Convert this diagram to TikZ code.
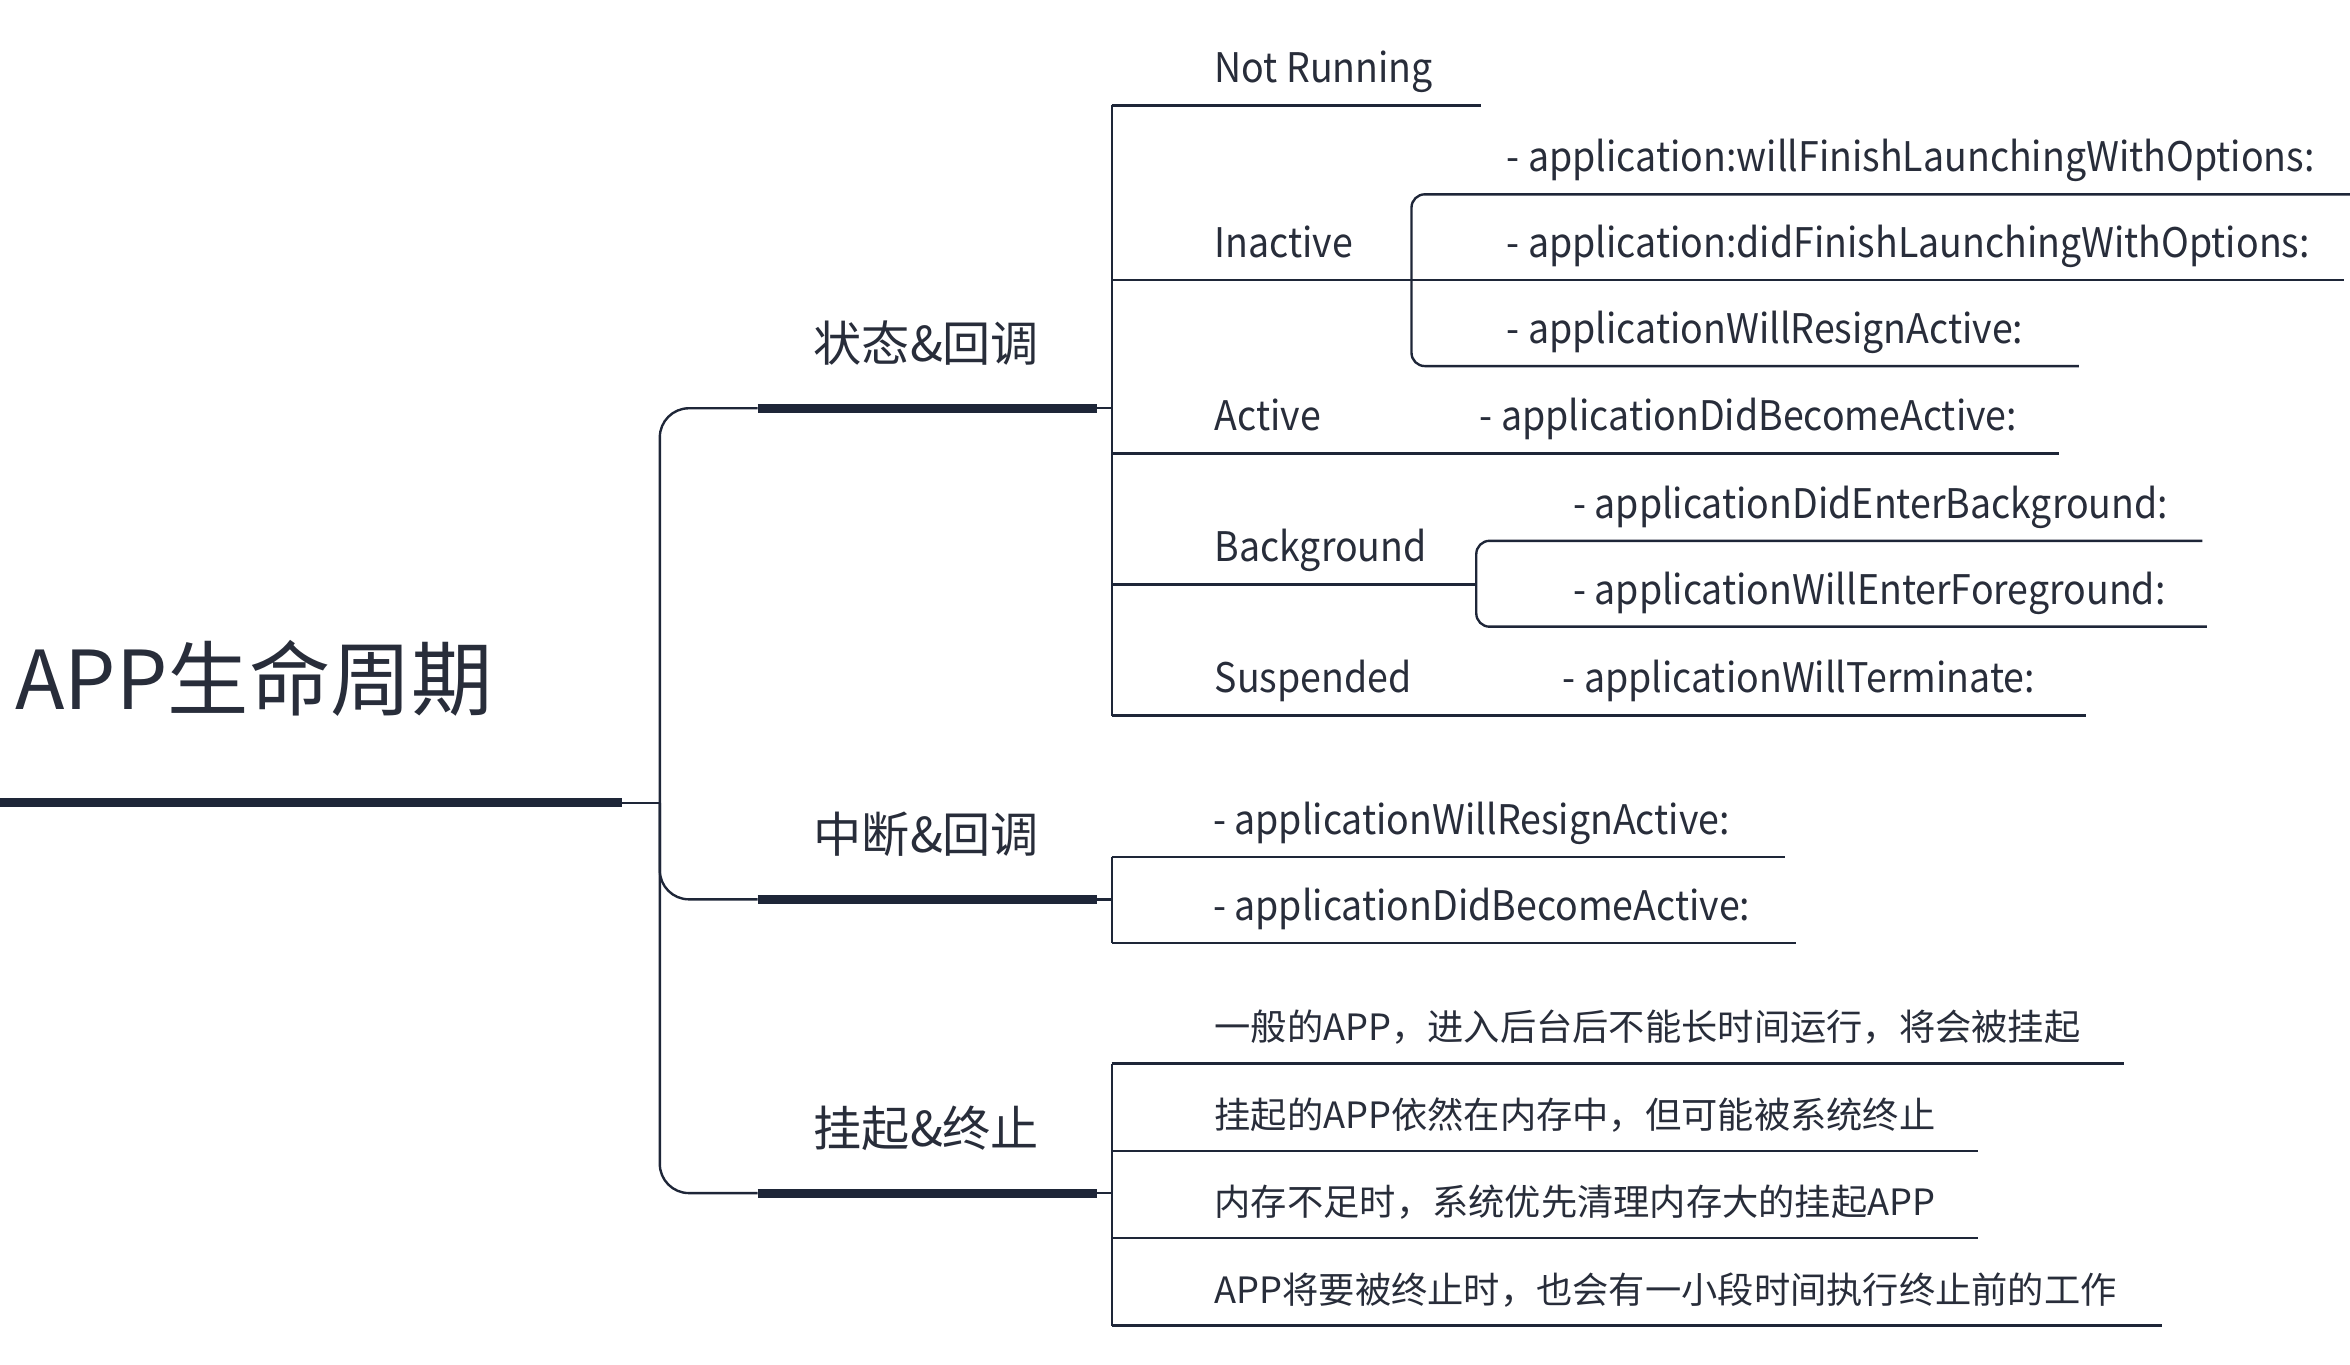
\documentclass[tikz,border=0pt]{standalone}
\usepackage{fontspec}
\setmainfont{Noto Sans CJK SC}
\newfontfamily\narrowfont[FakeStretch=0.92]{Noto Sans CJK SC}
\usepackage{xcolor}
\usetikzlibrary{positioning,calc}
\definecolor{ink}{RGB}{30,38,56}
\definecolor{txt}{RGB}{40,45,58}

\begin{document}
\begin{tikzpicture}[x=0.02cm, y=-0.02cm,
    thin line/.style={ink, line width=0.9pt},
    thick line/.style={ink, line width=3.4pt},
    bracket/.style={thin line, rounded corners=5pt},
    leaf/.style={anchor=base west, inner sep=0pt, text=txt, font=\narrowfont\fontsize{15.4}{18}\selectfont},
    cnleaf/.style={leaf, font=\fontsize{13.7}{16}\selectfont},
    topic/.style={anchor=base, inner sep=0pt, text=txt, font=\fontsize{18.2}{22}\selectfont}]
    \useasboundingbox (0,0) rectangle (1560,905.5);

    % Root
    \node[anchor=base west, inner sep=0pt, text=txt, font=\fontsize{30.7}{36}\selectfont] (root) at (10,471) {APP生命周期};
    \coordinate (root-l) at (0,533);
    \coordinate (root-r) at (413,533);
    \coordinate (trunk) at (438,533);
    \draw[thick line] (root-l) -- (root-r);
    \draw[thin line] (root-r) -- (trunk);

    % Main branches
    \foreach \name/\y/\lab in {state/271/状态\&回调, pause/597/中断\&回调, stop/792/挂起\&终止} {
        \coordinate (\name-l) at (503,\y);
        \coordinate (\name-r) at (728,\y);
        \coordinate (\name-e) at (738,\y);
        \node[topic] (\name) at (615,\y-31) {\lab};
        \draw[thick line] (\name-l) -- (\name-r);
        \draw[thin line] (\name-r) -- (\name-e);
    }
    \draw[thin line, rounded corners=11pt] (state-l) -| (trunk) |- (stop-l);
    \draw[thin line, rounded corners=11pt] (trunk) |- (pause-l);

    % States
    \foreach \name/\y/\xe/\lab in {notrun/70/983/Not Running, inactive/186/937/Inactive,
        active/301/915/Active, backgr/388/980/Background, suspend/475/972/Suspended} {
        \coordinate (\name-l) at (738,\y);
        \coordinate (\name-r) at (\xe,\y);
        \node[leaf] (\name) at (806,\y-15) {\lab};
        \draw[thin line] (\name-l) -- (\name-r);
    }
    \draw[thin line] (notrun-l) -- (suspend-l);

    % Callbacks of the states
    \foreach \name/\y/\xs/\xe/\xt/\lab in {
        willfin/129/937/1560/1000/- application:willFinishLaunchingWithOptions:,
        didfin/186/937/1556/1000/- application:didFinishLaunchingWithOptions:,
        resign/243/937/1380/1000/- applicationWillResignActive:,
        become/301/915/1367/982/- applicationDidBecomeActive:,
        enterbg/359/980/1462/1044/- applicationDidEnterBackground:,
        enterfg/416/980/1465/1044/- applicationWillEnterForeground:,
        term/475/972/1385/1037/- applicationWillTerminate:} {
        \coordinate (\name-l) at (\xs,\y);
        \coordinate (\name-r) at (\xe,\y);
        \node[leaf] (\name) at (\xt,\y-15) {\lab};
    }
    \draw[bracket] (willfin-r) -- (willfin-l) -- (resign-l) -- (resign-r);
    \draw[thin line] (inactive-r) -- (didfin-r);
    \draw[thin line] (active-r) -- (become-r);
    \draw[bracket] (enterbg-r) -- (enterbg-l) -- (enterfg-l) -- (enterfg-r);
    \draw[thin line] (suspend-r) -- (term-r);

    % Interrupt
    \foreach \name/\y/\xe/\lab in {pres/569/1185/- applicationWillResignActive:,
        pbec/626/1192/- applicationDidBecomeActive:} {
        \coordinate (\name-l) at (738,\y);
        \coordinate (\name-r) at (\xe,\y);
        \node[leaf] (\name) at (805,\y-15) {\lab};
        \draw[thin line] (\name-l) -- (\name-r);
    }
    \draw[thin line] (pres-l) -- (pbec-l);

    % Suspend & terminate
    \foreach \name/\y/\xe/\lab in {sa/706/1410/一般的APP，进入后台后不能长时间运行，将会被挂起,
        sb/764/1313/挂起的APP依然在内存中，但可能被系统终止,
        sc/822/1313/内存不足时，系统优先清理内存大的挂起APP,
        sd/880/1435/APP将要被终止时，也会有一小段时间执行终止前的工作} {
        \coordinate (\name-l) at (738,\y);
        \coordinate (\name-r) at (\xe,\y);
        \node[cnleaf] (\name) at (806,\y-15) {\lab};
        \draw[thin line] (\name-l) -- (\name-r);
    }
    \draw[thin line] (sa-l) -- (sd-l);
\end{tikzpicture}
\end{document}
